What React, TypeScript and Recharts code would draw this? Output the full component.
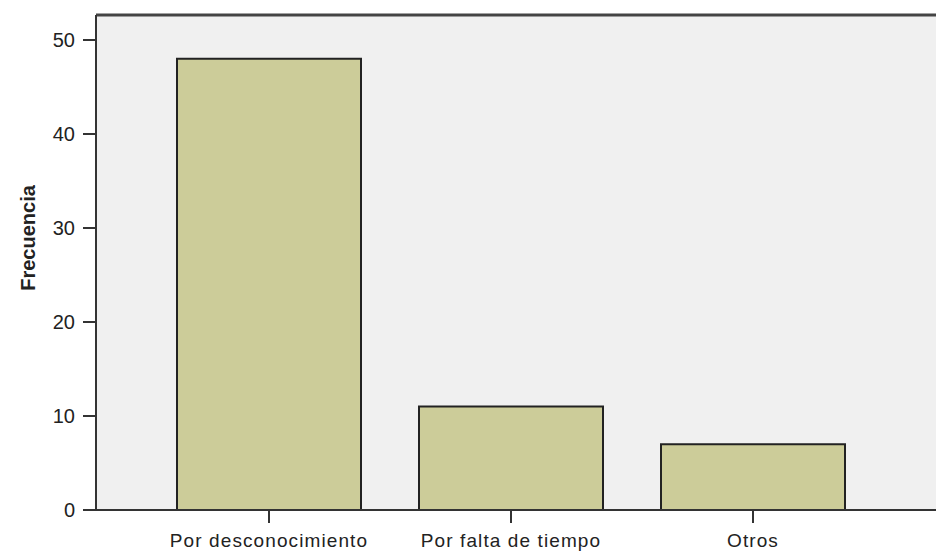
import React from 'react';
import { BarChart, Bar, XAxis, YAxis, CartesianGrid, ReferenceLine, Label } from 'recharts';

const categories = ['Por desconocimiento', 'Por falta de tiempo', 'Otros'];
const frecuencia = [48, 11, 7];
const yTicks = [0, 10, 20, 30, 40, 50];
const yMax = 52.66;

const data = categories.map((c, i) => ({ name: c, value: frecuencia[i] }));

const FONT = '"Liberation Sans", Arial, sans-serif';

const XTick = (props: any) => {
  const { x, y, payload } = props;
  return (
    <text x={x} y={y} dy={16} textAnchor="middle" fontFamily={FONT} fontSize={19} fill="#222" letterSpacing={1.1}>
      {payload.value}
    </text>
  );
};

const YTick = (props: any) => {
  const { x, y, payload } = props;
  return (
    <text x={x} y={y} dy={7} textAnchor="end" fontFamily={FONT} fontSize={20} fill="#222">
      {payload.value}
    </text>
  );
};

export default function App() {
  return (
    <div style={{ position: 'fixed', left: 0, top: 0, width: 936, height: 552, background: '#fff', overflow: 'hidden' }}>
      <BarChart width={936} height={552} data={data} margin={{ top: 15, right: 0, bottom: 0, left: 0 }}>
        <CartesianGrid fill="#f0f0f0" horizontal={false} vertical={false} />
        <XAxis
          dataKey="name"
          height={42}
          padding={{ left: 52, right: 62 }}
          tickSize={13}
          tickMargin={8}
          tick={<XTick />}
          axisLine={{ stroke: '#333', strokeWidth: 2 }}
          tickLine={{ stroke: '#333', strokeWidth: 2 }}
        />
        <YAxis
          width={96}
          domain={[0, yMax]}
          ticks={yTicks}
          allowDataOverflow
          tickSize={13}
          tickMargin={8}
          tick={<YTick />}
          axisLine={{ stroke: '#333', strokeWidth: 2 }}
          tickLine={{ stroke: '#333', strokeWidth: 2 }}
        >
          <Label
            content={() => (
              <text
                x={35}
                y={238}
                transform="rotate(-90 35 238)"
                textAnchor="middle"
                fontFamily={FONT}
                fontSize={20}
                fontWeight="bold"
                fill="#222"
              >
                Frecuencia
              </text>
            )}
          />
        </YAxis>
        <ReferenceLine y={yMax} stroke="#444" strokeWidth={3} />
        <Bar dataKey="value" fill="#cccc99" stroke="#222" strokeWidth={2} barSize={184} isAnimationActive={false} />
      </BarChart>
    </div>
  );
}
